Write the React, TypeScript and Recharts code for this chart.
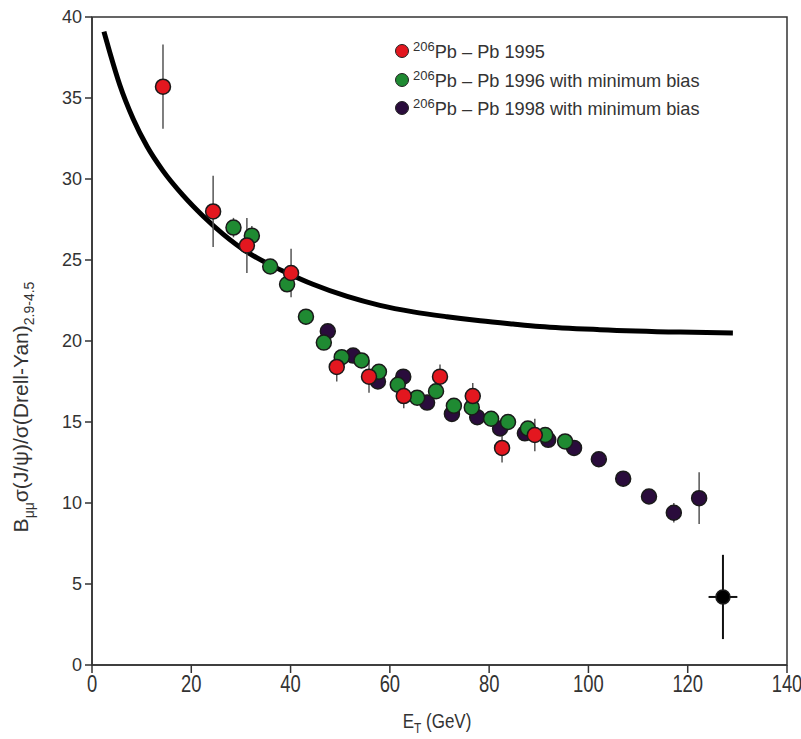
import React from "react";
import {
  ComposedChart,
  Line,
  Scatter,
  ErrorBar,
  XAxis,
  YAxis,
  ReferenceArea,
  Legend
} from "recharts";

// theoretical curve
const curveX = [2.4, 3.6, 5.6, 8.3, 11.1, 14.3, 18.3, 22.4, 26.4, 31.2, 35.9, 39.3, 44.5, 51.4, 58.0, 64.7, 71.5, 78.2, 84.8, 90.2, 102.3, 118.5, 129.1];
const curveY = [39.1, 37.8, 35.8, 33.7, 32.0, 30.5, 29.0, 27.7, 26.6, 25.5, 24.7, 24.2, 23.5, 22.75, 22.2, 21.8, 21.5, 21.25, 21.05, 20.9, 20.7, 20.55, 20.5];

// 206Pb - Pb 1995
const x1995 = [14.3, 24.4, 31.2, 40.1, 49.3, 55.8, 62.8, 70.1, 76.7, 82.6, 89.2];
const y1995 = [35.7, 28.0, 25.9, 24.2, 18.4, 17.8, 16.6, 17.8, 16.6, 13.4, 14.2];
const e1995 = [2.6, 2.2, 1.7, 1.5, 0.9, 1.0, 0.75, 0.75, 0.8, 0.9, 1.0];

// 206Pb - Pb 1996 with minimum bias
const x1996 = [28.5, 32.2, 35.9, 39.3, 43.1, 46.7, 50.3, 54.3, 57.8, 61.6, 65.5, 69.3, 72.9, 76.5, 80.4, 83.8, 87.8, 91.3, 95.3];
const y1996 = [27.0, 26.5, 24.6, 23.5, 21.5, 19.9, 19.0, 18.8, 18.1, 17.3, 16.5, 16.9, 16.0, 15.9, 15.2, 15.0, 14.6, 14.2, 13.8];
const e1996 = [0.6, 0.6, 0, 0.4, 0, 0, 0, 0, 0, 0, 0, 0, 0, 0, 0, 0, 0, 0, 0];

// 206Pb - Pb 1998 with minimum bias
const x1998 = [47.5, 52.6, 57.6, 62.7, 67.5, 72.5, 77.6, 82.2, 87.2, 91.9, 97.1, 102.1, 107.0, 112.2, 117.2, 122.3];
const y1998 = [20.6, 19.1, 17.5, 17.8, 16.2, 15.5, 15.3, 14.6, 14.3, 13.9, 13.4, 12.7, 11.5, 10.4, 9.4, 10.3];
const e1998 = [0, 0, 0, 0, 0, 0, 0, 0, 0, 0, 0, 0, 0, 0, 0.6, 1.6];

// last bin
const xLast = [127.1];
const yLast = [4.2];
const eyLast = [2.6];
const exLast = [2.9];

const xTicks = [0, 20, 40, 60, 80, 100, 120, 140];
const yTicks = [0, 5, 10, 15, 20, 25, 30, 35, 40];

const curve = curveX.map((x, i) => ({ x, y: curveY[i] }));
const build = (xs: number[], ys: number[], es: number[]) =>
  xs.map((x, i) => ({ x, y: ys[i], err: es[i] }));
const d1995 = build(x1995, y1995, e1995);
const d1996 = build(x1996, y1996, e1996);
const d1998 = build(x1998, y1998, e1998);
const dLast = xLast.map((x, i) => ({ x, y: yLast[i], err: eyLast[i], xerr: exLast[i] }));

const RED = "#e3171f";
const GREEN = "#1f8a32";
const PURPLE = "#2a0c3c";
const SANS = "'Liberation Sans', Arial, sans-serif";

const dotShape = (fill: string, r = 7.5) => (props: any) => (
  <circle cx={props.cx} cy={props.cy} r={r} fill={fill} stroke="#1a1a1a" strokeWidth={1.5} />
);

// narrow-looking tick labels like the original
const XTick = (props: any) => {
  const { x, y, payload } = props;
  return (
    <text
      transform={`translate(${x}, ${y + 17}) scale(0.8, 1)`}
      textAnchor="middle"
      fontFamily={SANS}
      fontSize={23}
      fill="#333"
    >
      {payload.value}
    </text>
  );
};

const legendItems = [
  { color: RED, label: "Pb – Pb 1995" },
  { color: GREEN, label: "Pb – Pb 1996 with minimum bias" },
  { color: PURPLE, label: "Pb – Pb 1998 with minimum bias" }
];

const LegendBox = () => (
  <div style={{ fontFamily: SANS, color: "#333" }}>
    {legendItems.map((it) => (
      <div key={it.label} style={{ display: "flex", alignItems: "center", height: 28.5, fontSize: 18.2 }}>
        <svg width={16} height={16} style={{ marginRight: 3 }}>
          <circle cx={8} cy={8} r={6.5} fill={it.color} stroke="#222" strokeWidth={1} />
        </svg>
        <span>
          <sup style={{ fontSize: 13 }}>206</sup>
          {it.label}
        </span>
      </div>
    ))}
  </div>
);

const YLabel = () => (
  <text
    transform="translate(28, 407) rotate(-90)"
    textAnchor="middle"
    fontFamily={SANS}
    fontSize={21}
    fill="#333"
  >
    B<tspan dy={6} fontSize={14}>μμ</tspan>
    <tspan dy={-6}>σ(J/ψ)/σ(Drell-Yan)</tspan>
    <tspan dy={6} fontSize={14}>2.9-4.5</tspan>
  </text>
);

const XLabel = () => (
  <text
    transform="translate(437, 728) scale(0.85, 1)"
    textAnchor="middle"
    fontFamily={SANS}
    fontSize={20}
    fill="#333"
  >
    E<tspan dy={5} fontSize={14}>T</tspan>
    <tspan dy={-5}> (GeV)</tspan>
  </text>
);

export default function App() {
  return (
    <div style={{ position: "absolute", left: 0, top: 0, background: "#fff" }}>
      <ComposedChart width={801} height={739} margin={{ top: 17, right: 14, bottom: 0, left: 0 }}>
        <XAxis
          type="number"
          dataKey="x"
          domain={[0, 140]}
          ticks={xTicks}
          height={74}
          tickSize={8}
          stroke="#333"
          strokeWidth={1.5}
          tick={<XTick />}
          label={<XLabel />}
        />
        <YAxis
          type="number"
          dataKey="y"
          domain={[0, 40]}
          ticks={yTicks}
          width={92}
          tickSize={7}
          tickMargin={3}
          stroke="#333"
          strokeWidth={1.5}
          tick={{ fill: "#333", fontSize: 18, fontFamily: SANS }}
          label={<YLabel />}
        />
        <ReferenceArea x1={0} x2={140} y1={0} y2={40} fill="none" stroke="#333" strokeWidth={1.5} ifOverflow="visible" />
        <Line
          data={curve}
          dataKey="y"
          type="monotone"
          stroke="#000"
          strokeWidth={5}
          dot={false}
          isAnimationActive={false}
        />
        <Scatter data={d1998} dataKey="y" shape={dotShape(PURPLE)} isAnimationActive={false}>
          <ErrorBar dataKey="err" direction="y" width={0} stroke="#555" strokeWidth={1.5} />
        </Scatter>
        <Scatter data={d1996} dataKey="y" shape={dotShape(GREEN)} isAnimationActive={false}>
          <ErrorBar dataKey="err" direction="y" width={0} stroke="#555" strokeWidth={1.5} />
        </Scatter>
        <Scatter data={d1995} dataKey="y" shape={dotShape(RED)} isAnimationActive={false}>
          <ErrorBar dataKey="err" direction="y" width={0} stroke="#555" strokeWidth={1.5} />
        </Scatter>
        <Scatter data={dLast} dataKey="y" shape={dotShape("#000", 7)} isAnimationActive={false}>
          <ErrorBar dataKey="err" direction="y" width={0} stroke="#111" strokeWidth={2} />
          <ErrorBar dataKey="xerr" direction="x" width={0} stroke="#111" strokeWidth={2} />
        </Scatter>
        <Legend
          layout="vertical"
          align="center"
          verticalAlign="middle"
          content={<LegendBox />}
          wrapperStyle={{ left: 394, top: 37, width: "auto" }}
        />
      </ComposedChart>
    </div>
  );
}
